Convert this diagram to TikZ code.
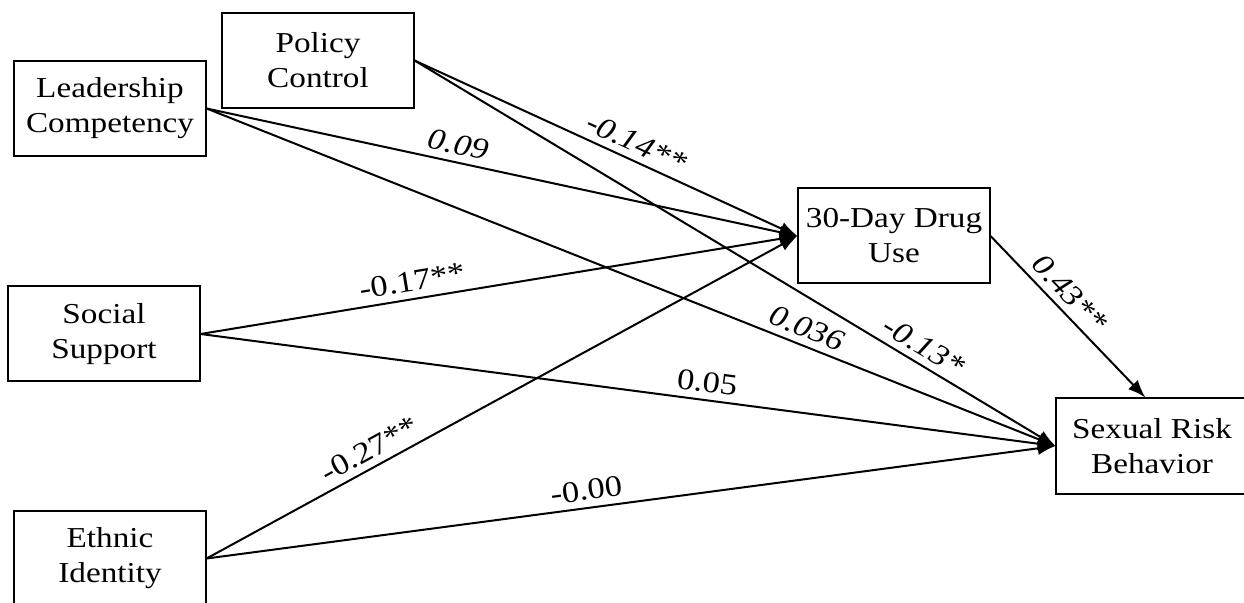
\documentclass[tikz,border=0pt]{standalone}
\usepackage{fontspec}
\setmainfont{Liberation Serif}[FakeStretch = 1.15]
\usetikzlibrary{arrows.meta}

\begin{document}
\begin{tikzpicture}[x = 0.45pt, y = -0.45pt,
    var/.style = {draw, line width = 0.9pt, minimum width = 86pt, minimum height = 42.75pt,
      align = center, font = \fontsize{13}{15.75}\selectfont},
    eff/.style = {-{Latex[length = 8pt, width = 6pt]}, line width = 0.9pt},
    coef/.style = {sloped, above, inner sep = 3pt, font = \fontsize{13.5}{16}\selectfont},
    coefit/.style = {coef, font = \fontsize{13.5}{16}\selectfont\itshape}]
  \useasboundingbox (0, 0) rectangle (1244, 603);

  \node[var] at ( 318,  60.5) (policy) {Policy\\Control};
  \node[var] at ( 110, 108.5) (lead)   {Leadership\\Competency};
  \node[var] at ( 104, 334)   (social) {Social\\Support};
  \node[var] at ( 110, 558.5) (ethnic) {Ethnic\\Identity};
  \node[var] at ( 894, 236)   (drug)   {30-Day Drug\\Use};
  \node[var] at (1152, 446)   (sexual) {Sexual Risk\\Behavior};

  % paths to drug use
  \draw[eff] (lead.east)   -- node [coefit, pos = 0.42] {0.09}    (drug.west);
  \draw[eff] (policy.east) -- node [coefit, pos = 0.56] {-0.14**} (drug.west);
  \draw[eff] (social.east) -- node [coef,   pos = 0.36] {-0.17**} (drug.west);
  \draw[eff] (ethnic.east) -- node [coef,   pos = 0.29] {-0.27**} (drug.west);

  % paths to sexual risk behavior
  \draw[eff] (lead.east)   -- node [coefit, pos = 0.70] {0.036}   (sexual.west);
  \draw[eff] (policy.east) -- node [coefit, pos = 0.78] {-0.13*}  (sexual.west);
  \draw[eff] (social.east) -- node [coef,   pos = 0.59] {0.05}    (sexual.west);
  \draw[eff] (ethnic.east) -- node [coef,   pos = 0.45] {-0.00}   (sexual.west);
  \draw[eff] (drug.east)   -- node [coefit, pos = 0.43] {0.43**}  ([xshift = -3pt]sexual.north);
\end{tikzpicture}
\end{document}
